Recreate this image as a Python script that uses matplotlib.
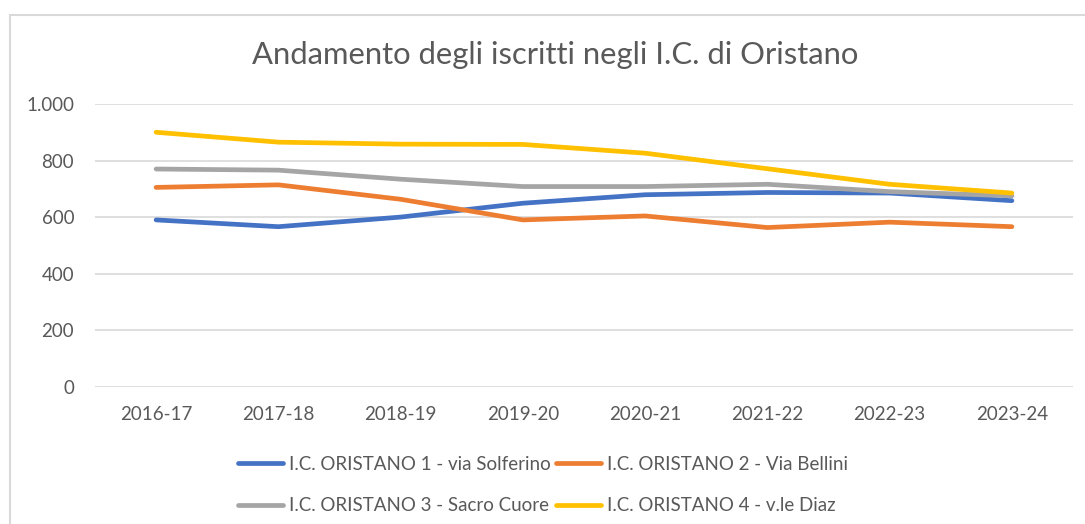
import matplotlib
matplotlib.use("Agg")
import matplotlib.pyplot as plt
from matplotlib.ticker import FuncFormatter, FixedLocator
from matplotlib.patches import Rectangle

plt.rcParams['font.family'] = ['Lato', 'DejaVu Sans']

years = ["2016-17", "2017-18", "2018-19", "2019-20", "2020-21", "2021-22", "2022-23", "2023-24"]
ic1_solferino = [590, 566, 600, 649, 679, 687, 685, 658]
ic2_bellini = [705, 714, 663, 590, 604, 563, 582, 566]
ic3_sacro_cuore = [770, 766, 734, 708, 708, 716, 690, 675]
ic4_diaz = [900, 865, 858, 857, 826, 771, 716, 685]

series = [
    ("I.C. ORISTANO 1 - via Solferino", ic1_solferino, "#4472C4"),
    ("I.C. ORISTANO 2 - Via Bellini", ic2_bellini, "#ED7D31"),
    ("I.C. ORISTANO 3 - Sacro Cuore", ic3_sacro_cuore, "#A5A5A5"),
    ("I.C. ORISTANO 4 - v.le Diaz", ic4_diaz, "#FFC000"),
]

W, H = 1085, 524
fig = plt.figure(figsize=(W / 100, H / 100), dpi=100)
fig.patch.set_facecolor("white")

# chart border (only left and top visible in reference)
fig.patches.append(Rectangle((10 / W, -0.1), 1.2, (H - 15) / H + 0.1, transform=fig.transFigure,
                             fill=False, edgecolor="#D9D9D9", linewidth=1.5))

ax = fig.add_axes([95 / W, (H - 386.7) / H, (1073 - 95) / W, (386.7 - 104) / H])
x = list(range(len(years)))
for name, vals, col in series:
    ax.plot(x, vals, color=col, linewidth=3.4, label=name, solid_capstyle="round", solid_joinstyle="round")

ax.set_xlim(-0.5, len(years) - 0.5)
ax.set_ylim(0, 1000)
ax.yaxis.set_major_locator(FixedLocator([0, 200, 400, 600, 800, 1000]))
ax.yaxis.set_major_formatter(FuncFormatter(lambda v, p: f"{int(v):,}".replace(",", ".")))
ax.set_xticks(x)
ax.set_xticklabels(years)
ax.grid(axis="y", color="#D9D9D9", linewidth=1.2)
ax.set_axisbelow(True)
for s in ax.spines.values():
    s.set_visible(False)
ax.tick_params(axis="both", length=0, colors="#595959", labelsize=13.5)
ax.tick_params(axis="y", pad=15)
ax.tick_params(axis="x", pad=14)

fig.text(555 / W, 1 - 55 / H, "Andamento degli iscritti negli I.C. di Oristano",
         ha="center", va="center", fontsize=22.3, color="#595959")

handles, labels = ax.get_legend_handles_labels()
order = [0, 2, 1, 3]  # row-wise fill like the reference
leg = fig.legend([handles[i] for i in order], [labels[i] for i in order], ncol=2, loc="center",
                 bbox_to_anchor=(543 / W, 1 - 485 / H),
                 frameon=False, fontsize=13.5, handlelength=2.4, handletextpad=0.3,
                 columnspacing=0.3, labelspacing=1.3, labelcolor="#595959")

fig.savefig("out.png", dpi=100, facecolor="white")
